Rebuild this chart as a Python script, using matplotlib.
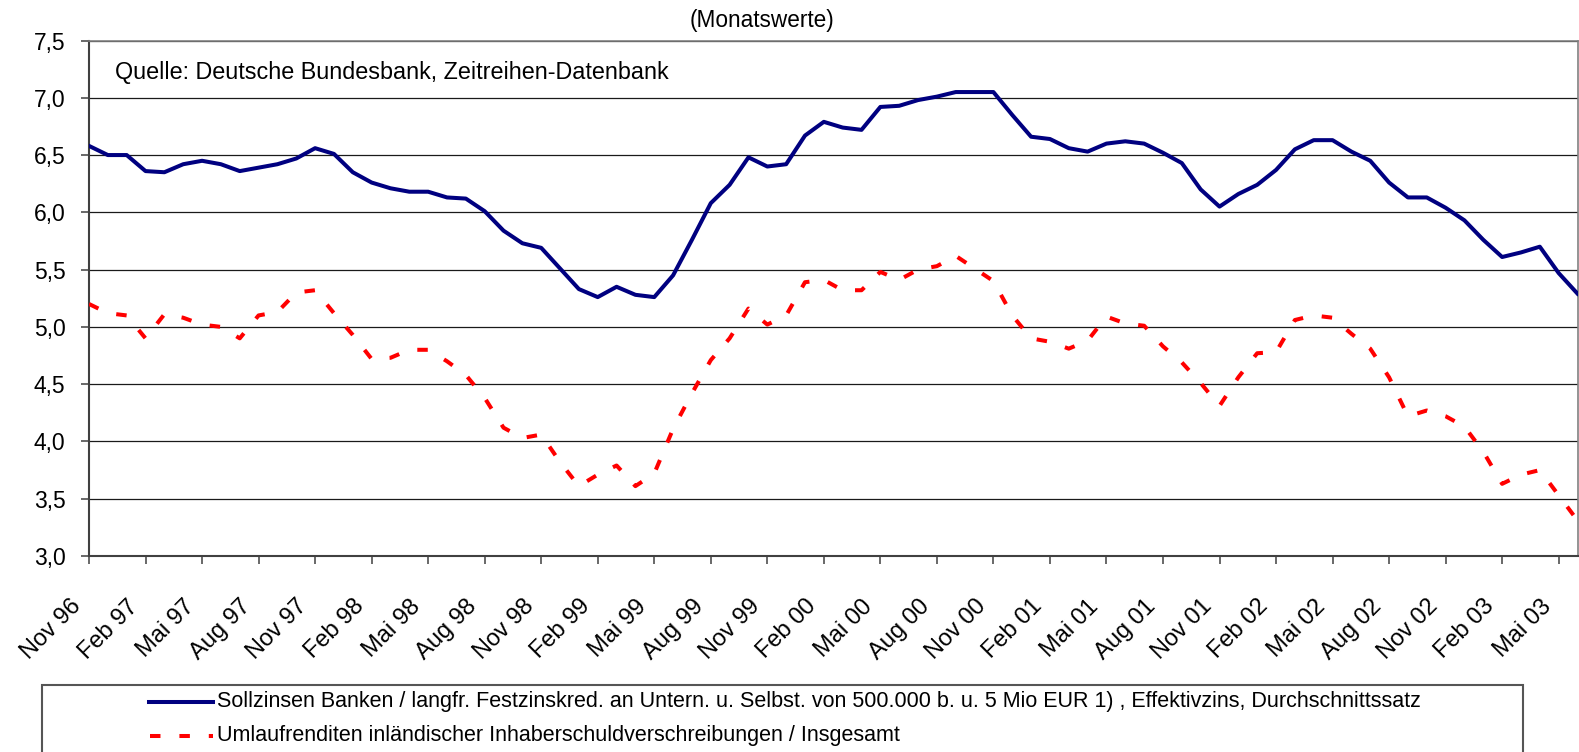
import numpy as np
import matplotlib
matplotlib.use('Agg')
import matplotlib.pyplot as plt
from matplotlib.lines import Line2D
from matplotlib.patches import Rectangle
import matplotlib.transforms as mtransforms

plt.rcParams['font.family'] = ['Liberation Sans', 'DejaVu Sans']

# Monatswerte Nov 96 - Jun 03 (in %)
sollzinsen = [6.58, 6.50, 6.50, 6.36, 6.35, 6.42, 6.45, 6.42, 6.36, 6.39,
              6.42, 6.47, 6.56, 6.51, 6.35, 6.26, 6.21, 6.18, 6.18, 6.13,
              6.12, 6.01, 5.84, 5.73, 5.69, 5.51, 5.33, 5.26, 5.35, 5.28,
              5.26, 5.45, 5.76, 6.08, 6.24, 6.48, 6.40, 6.42, 6.67, 6.79,
              6.74, 6.72, 6.92, 6.93, 6.98, 7.01, 7.05, 7.05, 7.05, 6.85,
              6.66, 6.64, 6.56, 6.53, 6.60, 6.62, 6.60, 6.52, 6.43, 6.20,
              6.05, 6.16, 6.24, 6.37, 6.55, 6.63, 6.63, 6.53, 6.45, 6.26,
              6.13, 6.13, 6.04, 5.93, 5.76, 5.61, 5.65, 5.70, 5.47, 5.29]

umlaufrenditen = [5.20, 5.12, 5.10, 4.90, 5.11, 5.08, 5.02, 5.00, 4.90, 5.10,
                  5.13, 5.30, 5.32, 5.12, 4.93, 4.72, 4.73, 4.80, 4.80, 4.70,
                  4.58, 4.38, 4.12, 4.03, 4.06, 3.82, 3.61, 3.71, 3.79, 3.61,
                  3.72, 4.11, 4.42, 4.71, 4.90, 5.16, 5.02, 5.10, 5.39, 5.41,
                  5.32, 5.32, 5.48, 5.41, 5.50, 5.53, 5.62, 5.51, 5.40, 5.10,
                  4.90, 4.87, 4.81, 4.88, 5.09, 5.03, 5.01, 4.83, 4.69, 4.51,
                  4.31, 4.56, 4.77, 4.78, 5.06, 5.10, 5.08, 4.94, 4.81, 4.56,
                  4.22, 4.27, 4.22, 4.13, 3.91, 3.63, 3.71, 3.75, 3.53, 3.31]

x_labels = ['Nov 96', 'Feb 97', 'Mai 97', 'Aug 97', 'Nov 97', 'Feb 98', 'Mai 98',
            'Aug 98', 'Nov 98', 'Feb 99', 'Mai 99', 'Aug 99', 'Nov 99', 'Feb 00',
            'Mai 00', 'Aug 00', 'Nov 00', 'Feb 01', 'Mai 01', 'Aug 01', 'Nov 01',
            'Feb 02', 'Mai 02', 'Aug 02', 'Nov 02', 'Feb 03', 'Mai 03']
y_ticks = [3.0, 3.5, 4.0, 4.5, 5.0, 5.5, 6.0, 6.5, 7.0, 7.5]
y_labels = ['3,0', '3,5', '4,0', '4,5', '5,0', '5,5', '6,0', '6,5', '7,0', '7,5']

label_soll = ('Sollzinsen Banken / langfr. Festzinskred. an Untern. u. Selbst. '
              'von 500.000 b. u. 5 Mio EUR 1) , Effektivzins, Durchschnittssatz')
label_uml = 'Umlaufrenditen inländischer Inhaberschuldverschreibungen / Insgesamt'

W, H = 1579, 752
fig = plt.figure(figsize=(W / 100, H / 100), dpi=100)


def fx(px):
    return px / W


def fy(py):
    return 1 - py / H


ax = fig.add_axes([fx(89), fy(556), (1577.5 - 89) / W, (556 - 40.5) / H])

x = np.arange(len(sollzinsen))
red_dash = (0, (2.6, 4.7))
ax.plot(x, sollzinsen, color='#000080', lw=2.9, zorder=3)
ax.plot(x, umlaufrenditen, color='#ff0000', lw=2.9, linestyle=red_dash,
        dash_capstyle='butt', zorder=3)

ax.set_xlim(0, len(sollzinsen) - 1)
ax.set_ylim(3.0, 7.5)
ax.set_yticks(y_ticks)
ax.set_yticklabels(y_labels)
ax.set_xticks(np.arange(0, len(sollzinsen), 3))
ax.set_xticklabels(x_labels, rotation=45, ha='right', va='center',
                   rotation_mode='anchor')

ax.yaxis.grid(True, color='#1a1a1a', lw=0.9)
ax.tick_params(axis='y', direction='out', length=6, width=1.1,
               color='#404040', pad=11, labelsize=16.5)
ax.tick_params(axis='x', direction='out', length=6, width=1.1,
               color='#404040', pad=28, labelsize=17)

offset = mtransforms.ScaledTranslation(-11 / 100, 0, fig.dpi_scale_trans)
for lbl in ax.get_xticklabels():
    lbl.set_transform(lbl.get_transform() + offset)

for side in ['top', 'right']:
    ax.spines[side].set_color('#808080')
    ax.spines[side].set_linewidth(1.2)
for side in ['left', 'bottom']:
    ax.spines[side].set_color('#404040')
    ax.spines[side].set_linewidth(1.5)

fig.text(fx(762), fy(20), '(Monatswerte)', ha='center', va='center',
         fontsize=16.3)
fig.text(fx(115), fy(78.5), 'Quelle: Deutsche Bundesbank, Zeitreihen-Datenbank',
         ha='left', va='baseline', fontsize=16.8)

# Legende (unten abgeschnitten wie im Original)
fig.add_artist(Rectangle((fx(42), fy(770)), (1523 - 42) / W, (770 - 685) / H,
                         transform=fig.transFigure, facecolor='white',
                         edgecolor='#555555', lw=1.5))
fig.add_artist(Line2D([fx(149), fx(213)], [fy(702), fy(702)],
                      transform=fig.transFigure, color='#000080', lw=2.9))
fig.add_artist(Line2D([fx(150), fx(213)], [fy(736), fy(736)],
                      transform=fig.transFigure, color='#ff0000', lw=2.9,
                      linestyle=red_dash, dash_capstyle='butt'))
fig.text(fx(217), fy(702), label_soll, ha='left', va='center', fontsize=15.5)
fig.text(fx(217), fy(736), label_uml, ha='left', va='center', fontsize=15.5)

fig.savefig('out.png', dpi=100)
